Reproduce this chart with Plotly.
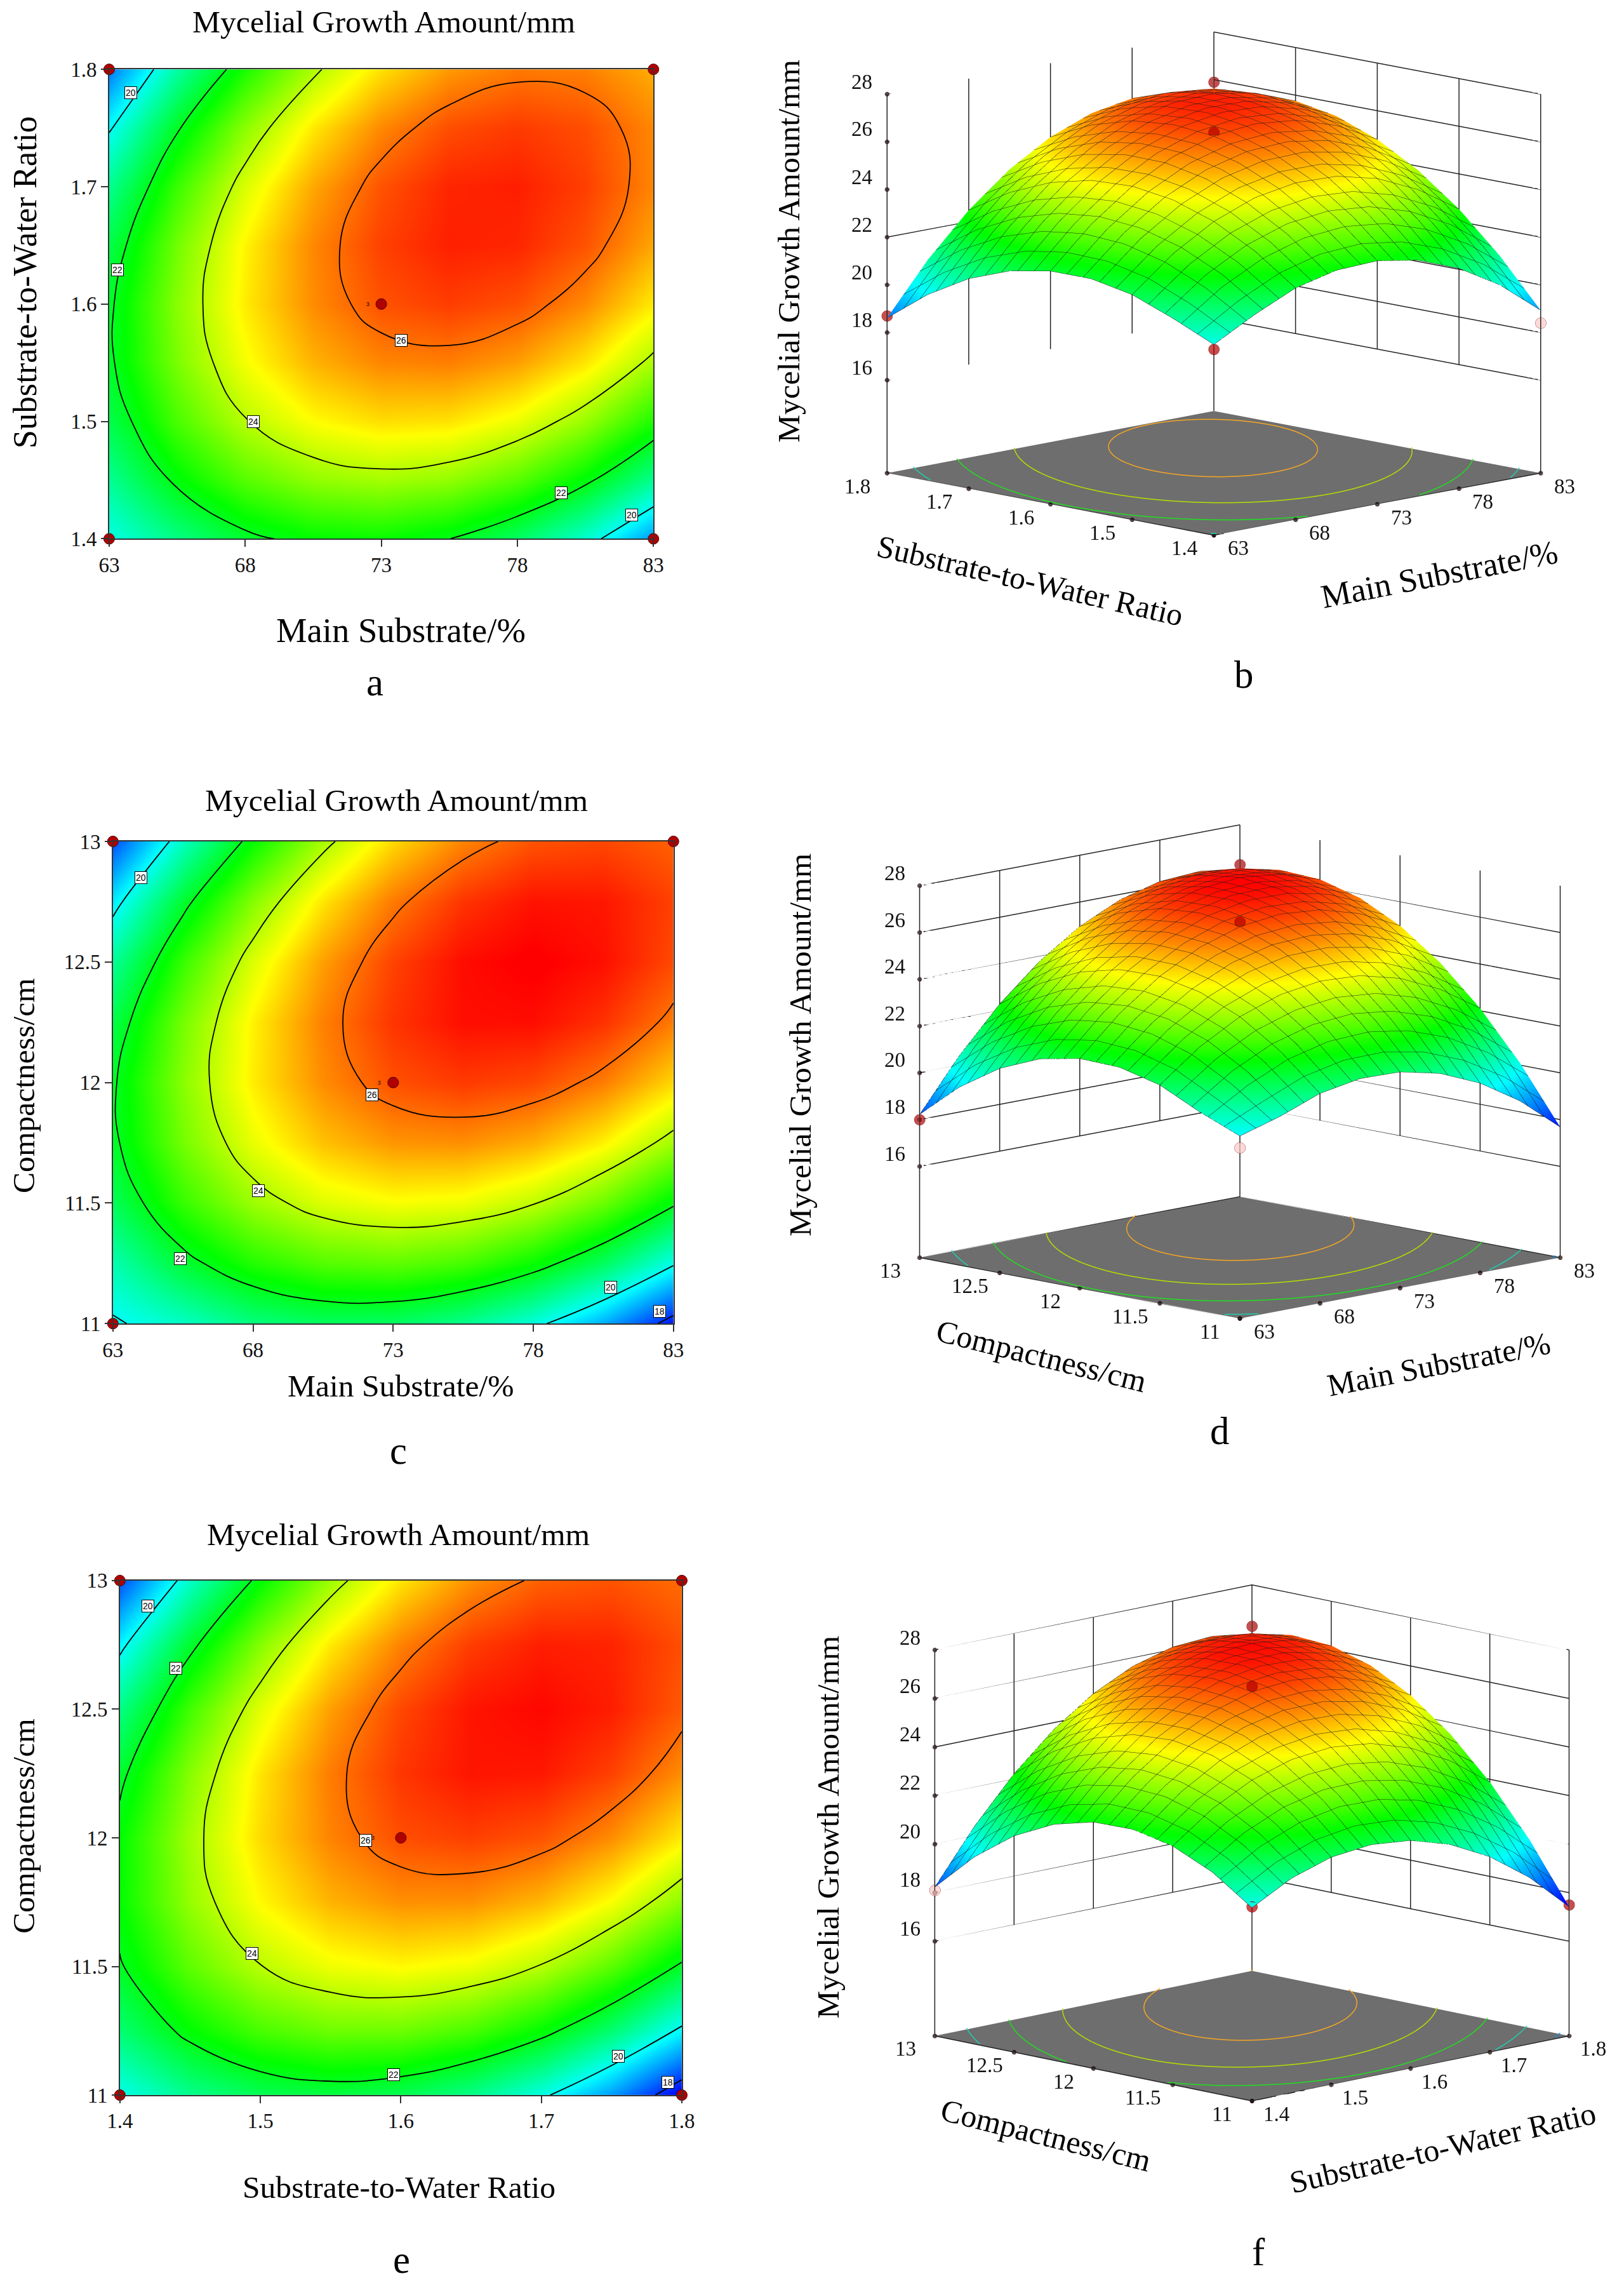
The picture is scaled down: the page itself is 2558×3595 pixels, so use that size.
import numpy as np
import plotly.graph_objects as go

W, H = 2558, 3595
SERIF = "Liberation Serif"

main_grid = [63, 65.5, 68, 70.5, 73, 75.5, 78, 80.5, 83]
ratio_grid = [1.4, 1.45, 1.5, 1.55, 1.6, 1.65, 1.7, 1.75, 1.8]
comp_grid = [11, 11.25, 11.5, 11.75, 12, 12.25, 12.5, 12.75, 13]

main_ticks = [63, 68, 73, 78, 83]
ratio_ticks = [1.4, 1.5, 1.6, 1.7, 1.8]
comp_ticks = [11, 11.5, 12, 12.5, 13]
growth_ticks = [16, 18, 20, 22, 24, 26, 28]

z_main_ratio = [
    [20.10, 21.03, 21.82, 22.24, 22.31, 22.01, 21.34, 20.32, 18.93],
    [20.87, 22.15, 23.05, 23.60, 23.78, 23.61, 23.06, 22.16, 20.89],
    [21.54, 22.93, 23.96, 24.63, 24.93, 24.88, 24.46, 23.67, 22.53],
    [21.88, 23.39, 24.54, 25.33, 25.75, 25.82, 25.52, 24.85, 23.83],
    [21.88, 23.52, 24.79, 25.70, 26.24, 26.43, 26.25, 25.71, 24.80],
    [21.56, 23.31, 24.71, 25.74, 26.40, 26.71, 26.65, 26.23, 25.45],
    [20.91, 22.78, 24.29, 25.44, 26.23, 26.66, 26.72, 26.42, 25.76],
    [19.92, 21.92, 23.55, 24.82, 25.73, 26.28, 26.46, 26.28, 25.74],
    [18.61, 20.73, 22.48, 23.87, 24.90, 25.57, 25.87, 25.81, 25.39],
]
z_main_comp = [
    [19.90, 20.41, 21.07, 21.38, 21.34, 20.95, 20.21, 19.12, 17.68],
    [20.60, 21.76, 22.57, 23.03, 23.15, 22.91, 22.32, 21.38, 20.09],
    [21.43, 22.74, 23.70, 24.31, 24.57, 24.48, 24.04, 23.25, 22.11],
    [21.86, 23.32, 24.43, 25.19, 25.60, 25.66, 25.37, 24.73, 23.74],
    [21.91, 23.52, 24.78, 25.69, 26.25, 26.46, 26.32, 25.83, 24.99],
    [21.57, 23.33, 24.74, 25.80, 26.51, 26.87, 26.88, 26.54, 25.85],
    [20.84, 22.75, 24.31, 25.52, 26.38, 26.89, 27.05, 26.86, 26.32],
    [19.72, 21.78, 23.49, 24.85, 25.86, 26.52, 26.83, 26.79, 26.40],
    [18.22, 20.43, 22.29, 23.80, 24.96, 25.77, 26.23, 26.34, 26.10],
]
z_ratio_comp = [
    [20.06, 20.94, 21.47, 21.65, 21.49, 20.99, 20.15, 18.96, 17.42],
    [21.19, 22.23, 22.92, 23.27, 23.27, 22.93, 22.25, 21.22, 19.85],
    [21.93, 23.13, 23.98, 24.49, 24.66, 24.48, 23.96, 23.10, 21.89],
    [22.28, 23.64, 24.66, 25.33, 25.66, 25.65, 25.29, 24.59, 23.54],
    [22.25, 23.77, 24.95, 25.78, 26.28, 26.42, 26.23, 25.69, 24.80],
    [21.82, 23.51, 24.85, 25.85, 26.50, 26.81, 26.78, 26.40, 25.68],
    [21.01, 22.86, 24.36, 25.52, 26.34, 26.81, 26.94, 26.73, 26.17],
    [19.81, 21.82, 23.49, 24.81, 25.79, 26.43, 26.72, 26.67, 26.27],
    [18.23, 20.40, 22.23, 23.72, 24.86, 25.66, 26.11, 26.22, 25.99],
]

labels_a = [(63.8, 1.78, "20"), (63.3, 1.629, "22"), (73.74, 1.569, "26"), (68.3, 1.5, "24"), (79.6, 1.439, "22"), (82.2, 1.42, "20")]
labels_c = [(64.0, 12.85, "20"), (72.24, 11.95, "26"), (68.2, 11.55, "24"), (65.4, 11.27, "22"), (80.76, 11.15, "20"), (82.5, 11.05, "18")]
labels_e = [(1.42, 12.9, "20"), (1.44, 12.66, "22"), (1.575, 11.99, "26"), (1.494, 11.55, "24"), (1.595, 11.08, "22"), (1.755, 11.15, "20"), (1.79, 11.05, "18")]

design_a = [(63, 1.8), (83, 1.8), (73, 1.6), (63, 1.4), (83, 1.4)]
design_c = [(63, 13), (83, 13), (73, 12), (63, 11)]
design_e = [(1.4, 13), (1.8, 13), (1.6, 12), (1.4, 11), (1.8, 11)]

points_b = [(63, 1.8, 18.7, "r"), (63, 1.4, 19.9, "r"), (83, 1.4, 18.4, "p"), (83, 1.8, 25.9, "r"), (73, 1.6, 26.4, "r")]
points_d = [(63, 13, 18.0, "r"), (63, 11, 19.4, "p"), (83, 13, 26.3, "r"), (73, 12, 26.45, "r")]
points_f = [(1.4, 13, 18.1, "p"), (1.4, 11, 20.1, "r"), (1.8, 11, 17.5, "r"), (1.8, 13, 26.3, "r"), (1.6, 12, 26.5, "r")]

COLORS = [[0, "#0000ff"], [0.25, "#00ffff"], [0.5, "#00ff00"], [0.75, "#ffff00"], [1, "#ff0000"]]
RING_COLORS = {18: "#1090e8", 20: "#20d0b0", 22: "#20e020", 24: "#b4e000", 26: "#f5a623"}
ZMIN, ZMAX = 17.5, 27.0
Z_FLOOR = 12.1
RED, PINK = "#b00000", "#ffc8c8"


def fx(px):
    return (1.0166 * px - 21) / W


def fy(py):
    return 1 - (1.00915 * py - 16.9) / H


fig = go.Figure()
annotations = []


def text(s, x, y, size=49, angle=0):
    annotations.append(dict(text=s, x=fx(x), y=fy(y), xref="paper", yref="paper", showarrow=False,
                            xanchor="center", yanchor="middle", textangle=angle,
                            font=dict(family=SERIF, size=size * 1.012, color="black")))


def contour_panel(n, x, y, z, xt, yt, box, labels, design, mark3):
    xa, ya = ("x", "y") if n == 1 else (f"x{n}", f"y{n}")
    fig.add_trace(go.Contour(x=x, y=y, z=z, xaxis=xa, yaxis=ya, zmin=ZMIN, zmax=ZMAX, zauto=False,
                             colorscale=COLORS, showscale=False,
                             contours=dict(start=18, end=26, size=2, coloring="heatmap"),
                             line=dict(color="black", width=1.8, smoothing=1.3)))
    fig.add_trace(go.Scatter(x=[p[0] for p in design], y=[p[1] for p in design], xaxis=xa, yaxis=ya,
                             mode="markers", cliponaxis=False, showlegend=False,
                             marker=dict(color=RED, size=17, line=dict(color="#500000", width=1))))
    axis = dict(ticks="outside", ticklen=11, tickcolor="#333", tickwidth=1.5, showline=True, mirror=True,
                linecolor="#333", linewidth=1.5, showgrid=False, zeroline=False,
                tickfont=dict(family=SERIF, size=33, color="#111"))
    l, r, t, b = box
    key = "" if n == 1 else str(n)
    fig.layout["xaxis" + key] = dict(axis, domain=[fx(l), fx(r)], range=[x[0], x[-1]], tickvals=xt,
                                     ticktext=[str(v) for v in xt], anchor="y" + key)
    fig.layout["yaxis" + key] = dict(axis, domain=[fy(b), fy(t)], range=[y[0], y[-1]], tickvals=yt,
                                     ticktext=[str(v) for v in yt], anchor="x" + key)
    for lx, ly, s in labels:
        annotations.append(dict(text=s, x=lx, y=ly, xref=xa, yref=ya, showarrow=False, bgcolor="white",
                                bordercolor="black", borderwidth=1, borderpad=1,
                                font=dict(family="Liberation Sans", size=14, color="black")))
    annotations.append(dict(text="3", x=mark3[0], y=mark3[1], xref=xa, yref=ya, showarrow=False,
                            font=dict(family="Liberation Sans", size=9, color="black")))


def floor_rings(x, y, z, level):
    """Segments of one contour level of the response fitted through the grid values."""
    xa, ya, za = np.array(x, float), np.array(y, float), np.array(z, float)
    u = (xa - xa.mean()) / (xa[-1] - xa.mean())
    v = (ya - ya.mean()) / (ya[-1] - ya.mean())
    U, V = np.meshgrid(u, v)
    basis = np.column_stack([np.ones(U.size), U.ravel(), V.ravel(), U.ravel() ** 2, V.ravel() ** 2, (U * V).ravel()])
    c = np.linalg.lstsq(basis, za.ravel(), rcond=None)[0]
    fu, fv = np.linspace(-1, 1, 41), np.linspace(-1, 1, 41)
    FU, FV = np.meshgrid(fu, fv)
    F = c[0] + c[1] * FU + c[2] * FV + c[3] * FU ** 2 + c[4] * FV ** 2 + c[5] * FU * FV
    to_x = lambda a: xa.mean() + a * (xa[-1] - xa.mean())
    to_y = lambda a: ya.mean() + a * (ya[-1] - ya.mean())
    segs = []
    for j in range(40):
        for i in range(40):
            corners = [(fu[i], fv[j], F[j, i]), (fu[i + 1], fv[j], F[j, i + 1]),
                       (fu[i + 1], fv[j + 1], F[j + 1, i + 1]), (fu[i], fv[j + 1], F[j + 1, i])]
            hits = []
            for k in range(4):
                a, b = corners[k], corners[(k + 1) % 4]
                if (a[2] - level) * (b[2] - level) < 0:
                    t = (level - a[2]) / (b[2] - a[2])
                    hits.append((to_x(a[0] + t * (b[0] - a[0])), to_y(a[1] + t * (b[1] - a[1]))))
            for k in range(0, len(hits) - 1, 2):
                segs.append((hits[k], hits[k + 1]))
    return segs


def surface_panel(n, x, y, z, xt, yt, points, cx, hw, ptop, pbot, cz, sin_el, zasp):
    key = "scene" if n == 1 else f"scene{n}"
    x0, x1, y0, y1 = x[0], x[-1], y[0], y[-1]
    zt = growth_ticks
    top = zt[-1]
    lx, ly, lz, lc = [], [], [], []

    def seg(xs, ys, zs, color="#222222"):
        lx.extend(list(xs) + [None])
        ly.extend(list(ys) + [None])
        lz.extend(list(zs) + [None])
        lc.extend([color] * (len(xs) + 1))

    for v in xt[1:-1]:
        seg([v, v], [y1, y1], [zt[0], top])
    for v in yt[1:-1]:
        seg([x1, x1], [v, v], [zt[0], top])
    for v in zt:
        seg([x0, x1, x1], [y1, y1, y0], [v, v, v])
    seg([x0, x0], [y1, y1], [Z_FLOOR, top])
    seg([x1, x1], [y1, y1], [Z_FLOOR, top])
    seg([x1, x1], [y0, y0], [Z_FLOOR, top])
    seg([x0, x0, x1, x1, x0], [y1, y0, y0, y1, y1], [Z_FLOOR] * 5)
    for level, colour in RING_COLORS.items():
        for (ax, ay), (bx, by) in floor_rings(x, y, z, level):
            seg([ax, bx], [ay, by], [Z_FLOOR + 0.05] * 2, colour)
    fig.add_trace(go.Scatter3d(x=lx, y=ly, z=lz, scene=key, mode="lines", showlegend=False, hoverinfo="skip",
                               visible=False, connectgaps=False, line=dict(color=lc, width=3)))
    fig.add_trace(go.Surface(
        x=x, y=y, z=z, scene=key, colorscale=COLORS, cmin=ZMIN, cmax=ZMAX, showscale=False, hoverinfo="skip",
        visible=False,
        lighting=dict(ambient=0.82, diffuse=0.35, specular=0.05, roughness=0.8, fresnel=0.0),
        contours=dict(
            x=dict(show=True, start=x0, end=x1, size=(x1 - x0) / 20, color="#1a1a1a", width=1.5, highlight=False),
            y=dict(show=True, start=y0, end=y1, size=(y1 - y0) / 20, color="#1a1a1a", width=1.5, highlight=False),
            z=dict(show=False, highlight=False))))
    dots_x = list(xt) + [x0] * len(yt) + [x0] * len(zt)
    dots_y = [y0] * len(xt) + list(yt) + [y1] * len(zt)
    dots_z = [Z_FLOOR] * (len(xt) + len(yt)) + list(zt)
    n_dots = len(dots_x)
    fig.add_trace(go.Scatter3d(
        x=dots_x + [p[0] for p in points], y=dots_y + [p[1] for p in points],
        z=dots_z + [p[2] for p in points], scene=key, visible=False,
        mode="markers", showlegend=False, hoverinfo="skip",
        marker=dict(size=[8] * n_dots + [20] * len(points),
                    color=["black"] * n_dots + [RED if p[3] == "r" else PINK for p in points],
                    line=dict(color="#600000", width=1))))
    cos_el = (1 - sin_el ** 2) ** 0.5
    e = 2.0
    ann = []
    tick = dict(showarrow=False, font=dict(family=SERIF, size=33, color="#111"))
    ex = (x1 - x0) * 0.0005
    ey = (y1 - y0) * 0.0005
    for v in xt:
        ann.append(dict(tick, x=min(max(v, x0 + ex), x1 - ex), y=y0 + ey, z=Z_FLOOR + 0.01, text=str(v), xshift=38, yshift=-21))
    for v in yt:
        ann.append(dict(tick, x=x0 + ex, y=min(max(v, y0 + ey), y1 - ey), z=Z_FLOOR + 0.01, text=str(v), xshift=-47, yshift=-21))
    for v in zt:
        ann.append(dict(tick, x=x0 + ex, y=y1 - ey, z=min(v, top - 0.01), text=str(v), xshift=-40, yshift=20))
    empty = dict(showgrid=False, zeroline=False, showticklabels=False, showspikes=False, showline=False,
                 showaxeslabels=False, ticks="", title="", tickmode="array", tickvals=[])
    fig.layout[key] = dict(
        domain=dict(x=[fx(cx - hw), fx(cx + hw)], y=[fy(pbot), fy(ptop)]),
        bgcolor="rgba(0,0,0,0)", hovermode=False,
        xaxis=dict(empty, range=[x0, x1], showbackground=False),
        yaxis=dict(empty, range=[y0, y1], showbackground=False),
        zaxis=dict(empty, range=[Z_FLOOR, top], showbackground=True, backgroundcolor="#6e6e6e"),
        aspectmode="manual", aspectratio=dict(x=1, y=1, z=zasp),
        camera=dict(projection=dict(type="orthographic"),
                    center=dict(x=0, y=0, z=cz), up=dict(x=0, y=0, z=1),
                    eye=dict(x=-e * cos_el * 0.7071, y=-e * cos_el * 0.7071, z=cz + e * sin_el)),
        annotations=ann)


contour_panel(1, main_grid, ratio_grid, z_main_ratio, main_ticks, ratio_ticks, (171.6, 1029, 109, 849),
              labels_a, design_a, (72.5, 1.6))
contour_panel(2, main_grid, comp_grid, z_main_comp, main_ticks, comp_ticks, (177.5, 1060.5, 1326, 2086),
              labels_c, design_c, (72.5, 12))
contour_panel(3, ratio_grid, comp_grid, z_ratio_comp, ratio_ticks, comp_ticks, (188.5, 1073.7, 2491, 3302),
              labels_e, design_e, (1.58, 12))

surface_panel(1, main_grid, ratio_grid, z_main_ratio, main_ticks, ratio_ticks, points_b,
              1912, 540, 17, 1474, -0.4175, 0.19, 0.835)
surface_panel(2, main_grid, comp_grid, z_main_comp, main_ticks, comp_ticks, points_d,
              1953, 540, 975, 2403, 0.0, 0.19, 0.836)
surface_panel(3, ratio_grid, comp_grid, z_ratio_comp, ratio_ticks, comp_ticks, points_f,
              1972, 540, 2165, 3579, 0.047, 0.205, 0.879)

TITLE = "Mycelial Growth Amount/mm"
text(TITLE, 604, 34)
text("Main Substrate/%", 631, 993, 54)
text("Substrate-to-Water Ratio", 39, 445, 52, -90)
text("a", 590, 1075, 60)
text(TITLE, 624, 1261)
text("Main Substrate/%", 631, 2184)
text("Compactness/cm", 37, 1711, 49, -90)
text("c", 627, 2286, 60)
text(TITLE, 627, 2419)
text("Substrate-to-Water Ratio", 628, 3448)
text("Compactness/cm", 37, 2878, 49, -90)
text("e", 632, 3562, 60)

text(TITLE, 1243, 396, 49, -90)
text("Substrate-to-Water Ratio", 1622, 915, 49, 13)
text("Main Substrate/%", 2267, 905, 52, -11)
text("b", 1959, 1063, 60)
text(TITLE, 1260, 1647, 49, -90)
text("Compactness/cm", 1640, 2137, 49, 14)
text("Main Substrate/%", 2266, 2150, 49, -11)
text("d", 1921, 2255, 60)
text(TITLE, 1304, 2880, 49, -90)
text("Compactness/cm", 1647, 3365, 49, 14)
text("Substrate-to-Water Ratio", 2272, 3385, 49, -13)
text("f", 1982, 3550, 60)

fig.update_layout(width=W, height=H, autosize=False, margin=dict(l=0, r=0, t=0, b=0),
                  paper_bgcolor="white", plot_bgcolor="white", showlegend=False, hovermode=False,
                  annotations=annotations)

REVEAL = """
document.body.style.margin='0';
var gd = document.getElementById('{plot_id}');
function reveal() {
  var idx = [];
  gd.data.forEach(function(t, i) { if (t.visible === false) idx.push(i); });
  Plotly.restyle(gd, {visible: true}, idx);
}
if (document.readyState === 'complete') { setTimeout(reveal, 50); }
else { window.addEventListener('load', function() { setTimeout(reveal, 50); }); }
"""
fig.write_html("out.html", post_script=REVEAL, config=dict(displayModeBar=False))
